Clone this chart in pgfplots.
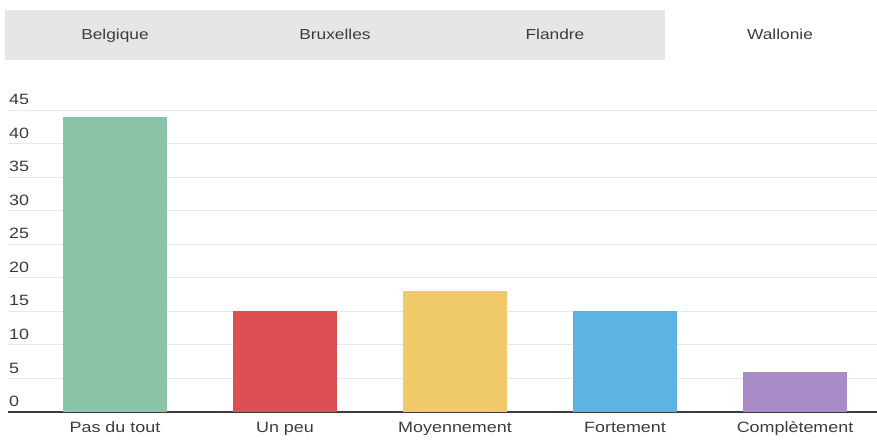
\documentclass[border=0pt]{standalone}
\usepackage{fontspec}
\setmainfont{Liberation Sans}[FakeStretch=1.2]
\usepackage{pgfplots}
\pgfplotsset{compat=1.18}
\definecolor{cgreen}{HTML}{8AC3A7}
\definecolor{cred}{HTML}{DC4F53}
\definecolor{cyellow}{HTML}{F0C969}
\definecolor{cblue}{HTML}{5CB4E4}
\definecolor{cpurple}{HTML}{A98BC8}
\definecolor{tabgray}{HTML}{E6E6E6}
\definecolor{txt}{HTML}{3C3C3C}
\begin{document}
\begin{tikzpicture}[x=1bp,y=1bp]
\useasboundingbox (0,0) rectangle (877,441);
\fill[tabgray] (5,381) rectangle (877,431);
\fill[white] (665,378) rectangle (877,434);
\node[anchor=base, font=\fontsize{14.5}{16}\selectfont, text=txt] at (115,401) {Belgique};
\node[anchor=base, font=\fontsize{14.5}{16}\selectfont, text=txt] at (335,401) {Bruxelles};
\node[anchor=base, font=\fontsize{14.5}{16}\selectfont, text=txt] at (555,401) {Flandre};
\node[anchor=base, font=\fontsize{14.5}{16}\selectfont, text=txt] at (780,401) {Wallonie};
\begin{axis}[
  at={(8bp,29bp)}, anchor=south west,
  scale only axis, width=869bp, height=302bp,
  xmin=-0.629, xmax=4.482, ymin=0, ymax=45,
  ytick={0,5,...,45}, xtick={0,1,2,3,4},
  xticklabels={Pas du tout, Un peu, Moyennement, Fortement, Complètement},
  ymajorgrids, grid style={color=black!9, line width=0.8bp},
  axis x line*=bottom, axis y line*=left,
  y axis line style={draw=none},
  x axis line style={draw=txt, line width=1.6bp},
  major tick length=0pt,
  /pgf/number format/assume math mode=true,
  yticklabel style={anchor=south west, font=\fontsize{15}{16}\selectfont, text=txt, inner sep=1bp, xshift=0bp, yshift=4bp},
  xticklabel style={anchor=base, font=\fontsize{15}{16}\selectfont, text=txt, inner sep=0pt, yshift=-21bp},
  clip=false,
]
\addplot[ybar, bar width=104bp, fill=cgreen, draw=none] coordinates {(0,44)};
\addplot[ybar, bar width=104bp, fill=cred, draw=none] coordinates {(1,15)};
\addplot[ybar, bar width=104bp, fill=cyellow, draw=none] coordinates {(2,18)};
\addplot[ybar, bar width=104bp, fill=cblue, draw=none] coordinates {(3,15)};
\addplot[ybar, bar width=104bp, fill=cpurple, draw=none] coordinates {(4,6)};
\end{axis}
\end{tikzpicture}
\end{document}
